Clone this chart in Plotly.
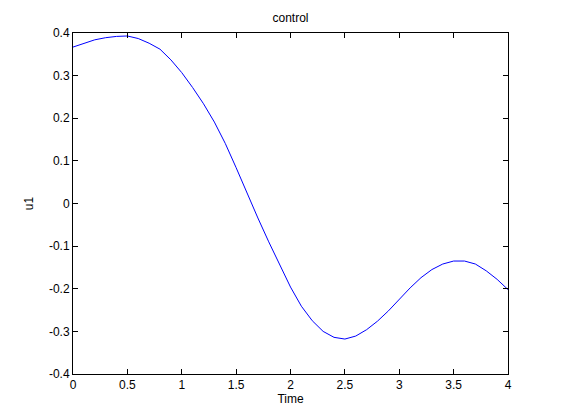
import plotly.graph_objects as go

# time samples and control signal u1
time = [0.0, 0.1, 0.2, 0.3, 0.4, 0.5, 0.6, 0.7, 0.8, 0.9,
        1.0, 1.1, 1.2, 1.3, 1.4, 1.5, 1.6, 1.7, 1.8, 1.9,
        2.0, 2.1, 2.2, 2.3, 2.4, 2.5, 2.6, 2.7, 2.8, 2.9,
        3.0, 3.1, 3.2, 3.3, 3.4, 3.5, 3.6, 3.7, 3.8, 3.9, 4.0]
u1 = [0.367, 0.376, 0.384, 0.389, 0.392, 0.393, 0.387, 0.376, 0.362, 0.337,
      0.307, 0.272, 0.234, 0.191, 0.141, 0.084, 0.024, -0.034, -0.090, -0.144,
      -0.196, -0.241, -0.275, -0.300, -0.314, -0.318, -0.311, -0.296, -0.276, -0.252,
      -0.225, -0.198, -0.174, -0.155, -0.142, -0.135, -0.135, -0.142, -0.158, -0.178, -0.202]

x_ticks = [0, 0.5, 1, 1.5, 2, 2.5, 3, 3.5, 4]
x_labels = ["0", "0.5", "1", "1.5", "2", "2.5", "3", "3.5", "4"]
y_ticks = [-0.4, -0.3, -0.2, -0.1, 0, 0.1, 0.2, 0.3, 0.4]
y_labels = ["-0.4", "-0.3", "-0.2", "-0.1", "0", "0.1", "0.2", "0.3", "0.4"]

fig = go.Figure()
fig.add_trace(go.Scatter(x=time, y=u1, mode='lines',
                         line=dict(color='#0000ff', width=1)))

axis_style = dict(
    showline=True, linecolor='black', linewidth=1, mirror='ticks',
    ticks='inside', ticklen=5, tickcolor='black', showgrid=False,
    zeroline=False, tickfont=dict(size=12, color='black'),
)

# page body adds an 8px offset, so the figure is 8px smaller on each axis
fig.update_layout(
    width=553, height=412,
    margin=dict(l=65, r=53, t=25, b=46),
    paper_bgcolor='white', plot_bgcolor='white',
    font=dict(family='Liberation Sans, Arial, sans-serif', size=12, color='black'),
    showlegend=False,
    title=dict(text='control', x=0.5, xref='paper', xanchor='center',
               y=1, yref='paper', yanchor='bottom', pad=dict(b=11),
               font=dict(size=12, color='black')),
    xaxis=dict(range=[0, 4], tickvals=x_ticks, ticktext=x_labels,
               title=dict(text='Time', standoff=3, font=dict(size=12)), **axis_style),
    yaxis=dict(range=[-0.4, 0.4], tickvals=y_ticks, ticktext=y_labels,
               title=dict(text='u1', standoff=12, font=dict(size=12)), **axis_style),
)

fig.write_html("out.html")
